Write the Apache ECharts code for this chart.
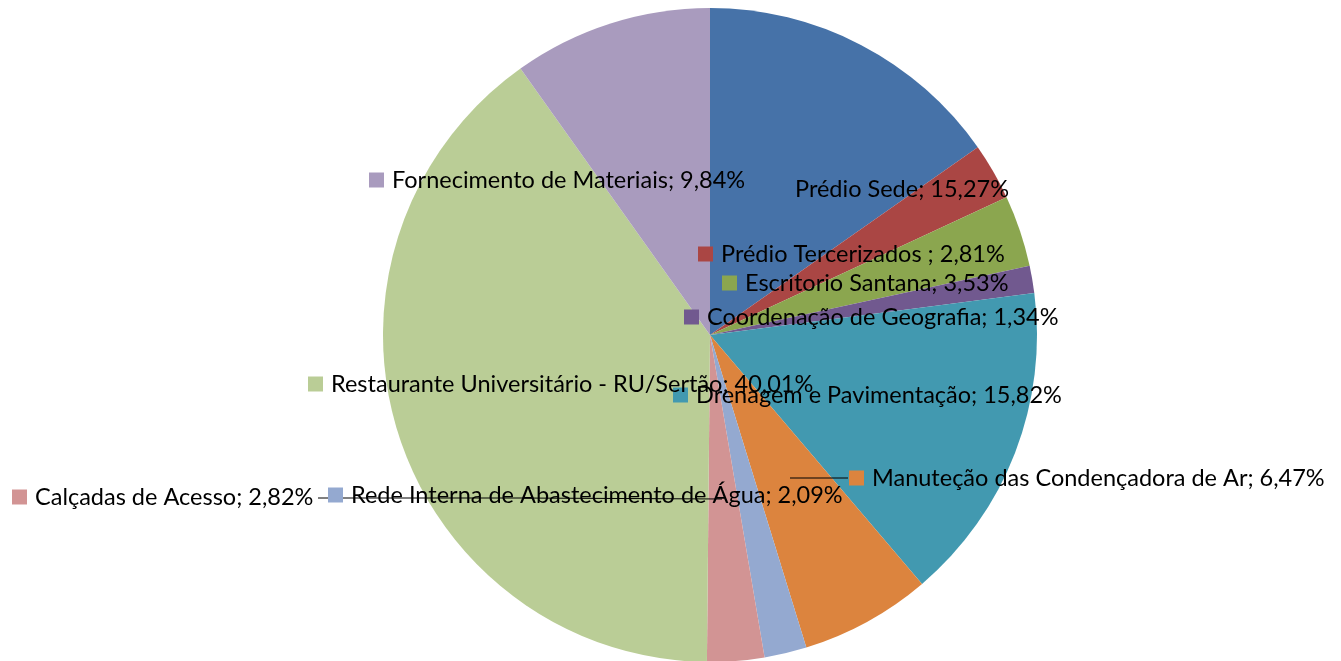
<!DOCTYPE html>
<html>
<head>
<meta charset="utf-8">
<script src="https://cdn.jsdelivr.net/npm/echarts@6/dist/echarts.min.js"></script>
<style>
  html, body { margin: 0; padding: 0; background: #fff; }
  #chart { width: 1341px; height: 661px; }
</style>
</head>
<body>
<div id="chart"></div>
<script>
const categories = [
  'Prédio Sede',
  'Prédio Tercerizados ',
  'Escritorio Santana',
  'Coordenação de Geografia',
  'Drenagem e Pavimentação',
  'Manuteção das Condençadora de Ar',
  'Rede Interna de Abastecimento de Água',
  'Calçadas de Acesso',
  'Restaurante Universitário - RU/Sertão',
  'Fornecimento de Materiais'
]
const values = [15.27, 2.81, 3.53, 1.34, 15.82, 6.47, 2.09, 2.82, 40.01, 9.84]
const colors = ['#4672A8', '#AA4644', '#8BA64F', '#71598F', '#4299B0',
                '#DC843E', '#94A9D0', '#D29494', '#BACD96', '#A99BBE']

// label anchor (left edge, vertical middle) for each slice
const labelPos = [
  [795, 189], [698, 254], [722, 283], [684, 317], [673, 395],
  [849, 478], [328, 495], [12, 497], [308, 384], [369, 180]
]
const showMarker = [false, true, true, true, true, true, true, true, true, true]
// leader lines drawn by Excel for two labels
const leaderLines = {
  5: [[848, 478], [819, 478], [790, 478]],
  7: [[318, 498], [520, 498], [722, 499]]
}

const chart = echarts.init(document.getElementById('chart'))

const sectors = categories.map((name, i) => ({
  name,
  value: values[i],
  itemStyle: { color: colors[i] }
}))

// same slices again, invisible, only to carry labels + leader lines above the pie
const labelled = categories.map((name, i) => ({
  name,
  value: values[i],
  itemStyle: { color: 'rgba(0,0,0,0)' },
  label: {
    formatter: (p) => (showMarker[i] ? '{m|}{g|}' : '') +
      '{t|' + p.name + '; ' + p.value.toFixed(2).replace('.', ',') + '%}',
    rich: {
      m: { width: 15, height: 15, backgroundColor: colors[i] },
      g: { width: 8 },
      t: { fontFamily: 'Lato, "Open Sans", sans-serif', fontSize: 23.5, color: '#000' }
    }
  },
  labelLine: { show: !!leaderLines[i] }
}))

const base = {
  type: 'pie',
  center: [710, 335],
  radius: 327,
  startAngle: 90,
  clockwise: true,
  avoidLabelOverlap: false,
  silent: true
}

chart.setOption({
  animation: false,
  series: [
    Object.assign({}, base, {
      z: 2,
      itemStyle: { borderWidth: 0 },
      label: { show: false },
      labelLine: { show: false },
      data: sectors
    }),
    Object.assign({}, base, {
      z: 5,
      itemStyle: { borderWidth: 0 },
      label: { show: true, position: 'outside' },
      labelLine: { lineStyle: { color: '#000', width: 1 } },
      labelLayout: (params) => {
        const i = params.dataIndex
        const p = labelPos[i]
        const out = { x: p[0], y: p[1], align: 'left', verticalAlign: 'middle' }
        if (leaderLines[i]) out.labelLinePoints = leaderLines[i]
        return out
      },
      data: labelled
    })
  ]
})
</script>
</body>
</html>
